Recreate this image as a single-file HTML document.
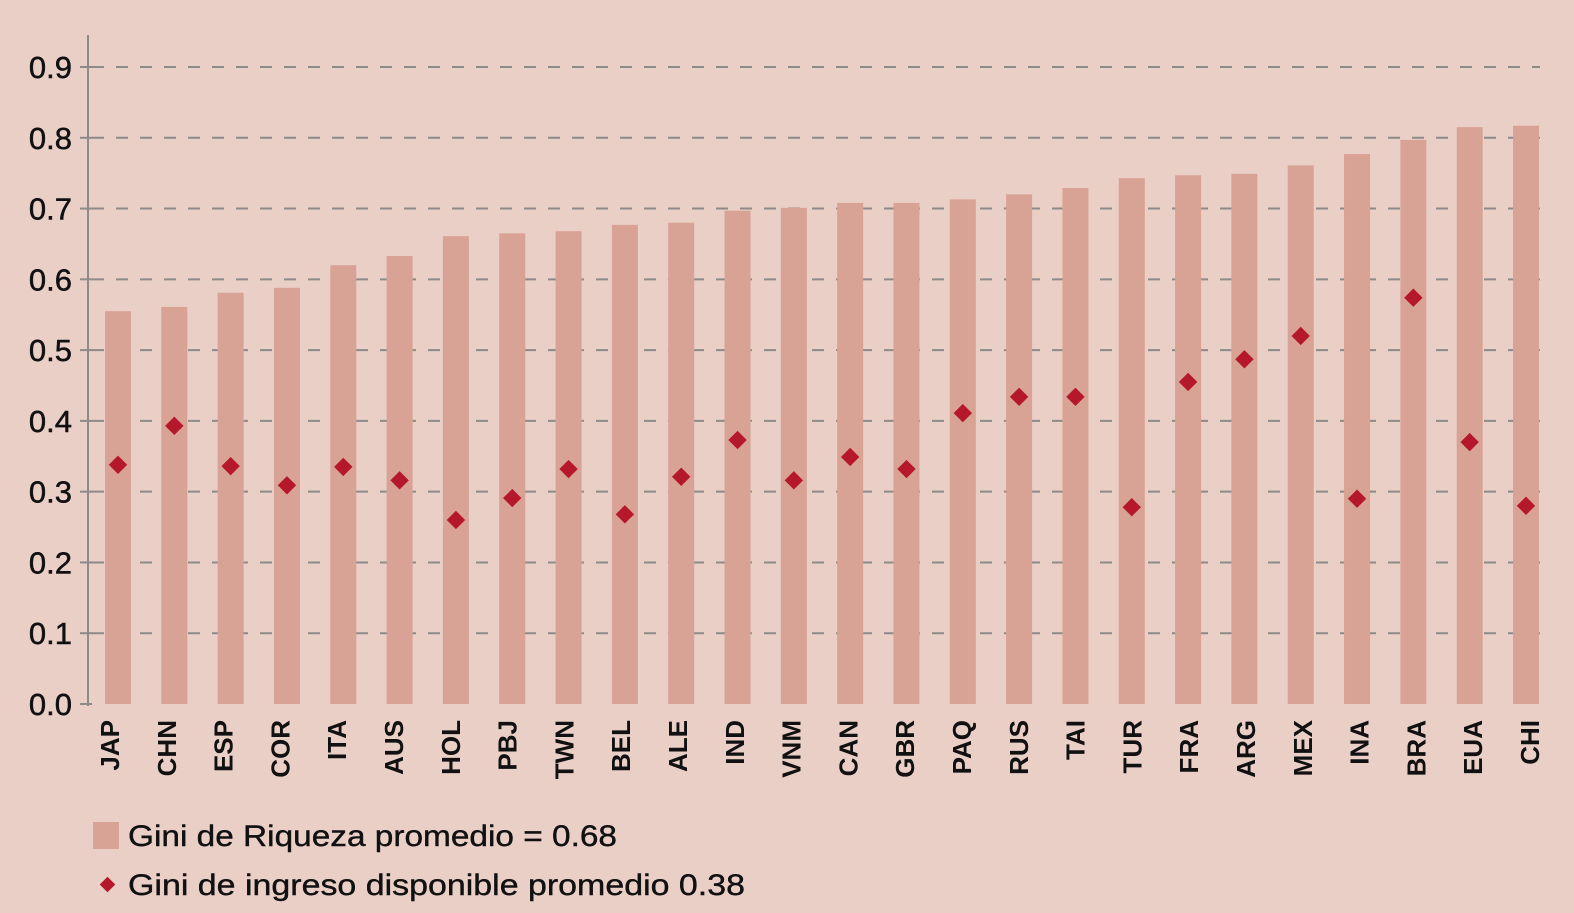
<!DOCTYPE html>
<html><head><meta charset="utf-8"><style>
html,body{margin:0;padding:0;background:#eacfc7;}
svg{display:block;font-family:"Liberation Sans",Arial,sans-serif;}
</style></head><body>
<svg id="chart" width="1574" height="913" viewBox="0 0 1574 913">
<rect width="1574" height="913" fill="#eacfc7"/>
<g id="grid"></g><g id="bars"></g><g id="points"></g><g id="axes"></g>
<g>
<rect x="93" y="822" width="26" height="27" fill="#d8a294"/>
<text x="128" y="846" font-size="30" fill="#111" stroke="#111" stroke-width="0.4" textLength="489" lengthAdjust="spacingAndGlyphs">Gini de Riqueza promedio = 0.68</text>
<rect x="102" y="879" width="11" height="11" fill="#b5172b" transform="rotate(45 107.5 884.5)"/>
<text x="128" y="895" font-size="30" fill="#111" stroke="#111" stroke-width="0.4" textLength="617" lengthAdjust="spacingAndGlyphs">Gini de ingreso disponible promedio 0.38</text>
</g>
</svg>
<script>
const categories=["JAP","CHN","ESP","COR","ITA","AUS","HOL","PBJ","TWN","BEL","ALE","IND","VNM","CAN","GBR","PAQ","RUS","TAI","TUR","FRA","ARG","MEX","INA","BRA","EUA","CHI"];
const wealthGini=[0.555,0.561,0.581,0.588,0.620,0.633,0.661,0.665,0.668,0.677,0.680,0.697,0.701,0.708,0.708,0.713,0.720,0.729,0.743,0.747,0.749,0.761,0.777,0.797,0.815,0.817];
const incomeGini=[0.338,0.393,0.336,0.309,0.335,0.316,0.260,0.291,0.332,0.268,0.321,0.373,0.316,0.349,0.332,0.411,0.434,0.434,0.278,0.455,0.487,0.520,0.290,0.574,0.370,0.280];
const yTicks=[0,0.1,0.2,0.3,0.4,0.5,0.6,0.7,0.8,0.9];
const yTickLabels=["0.0","0.1","0.2","0.3","0.4","0.5","0.6","0.7","0.8","0.9"];

const NS="http://www.w3.org/2000/svg";
const y0=704, y9=67;
function y(v){return y0-(v/0.9)*(y0-y9);}
function x(i){return 118+i*(1526-118)/(categories.length-1);}
function lx(i){return 109+i*(1529-109)/(categories.length-1);}
function mk(tag,attrs,parent){const e=document.createElementNS(NS,tag);for(const k in attrs)e.setAttribute(k,attrs[k]);parent.appendChild(e);return e;}
const grid=document.getElementById('grid'),bars=document.getElementById('bars'),pts=document.getElementById('points'),axes=document.getElementById('axes');
yTicks.forEach((t,i)=>{
  if(t>0){const l=mk('line',{x1:92,x2:1540,y1:y(t),y2:y(t),stroke:'#8d8a88','stroke-width':2,'stroke-dasharray':'12 12'},grid);
  
  }
  const tk=mk('line',{x1:80,x2:92,y1:y(t),y2:y(t),stroke:'#8d8a88','stroke-width':2},axes);
  
  
  const tx=mk('text',{x:72,y:y(t)+11,'text-anchor':'end','font-size':31,fill:'#111',stroke:'#111','stroke-width':0.5},axes);
  tx.textContent=yTickLabels[i];
  
  
});
const ax=mk('line',{x1:88,x2:88,y1:35,y2:706,stroke:'#8d8a88','stroke-width':2},axes);


categories.forEach((c,i)=>{
  const b=mk('rect',{x:x(i)-13,y:y(wealthGini[i]),width:26,height:y0-y(wealthGini[i]),fill:'#d8a294'},bars);
  
  
  const py=y(incomeGini[i]);
  const d=mk('rect',{x:x(i)-6.5,y:py-6.5,width:13,height:13,fill:'#b5172b',transform:`rotate(45 ${x(i)} ${py})`},pts);
  
  
  const t=mk('text',{x:0,y:0,'text-anchor':'end','font-size':26,'font-weight':'bold',fill:'#111',transform:`translate(${lx(i)+10} 720) rotate(-90)`},axes);
  t.textContent=c;
  
  
});
</script>
</body></html>
